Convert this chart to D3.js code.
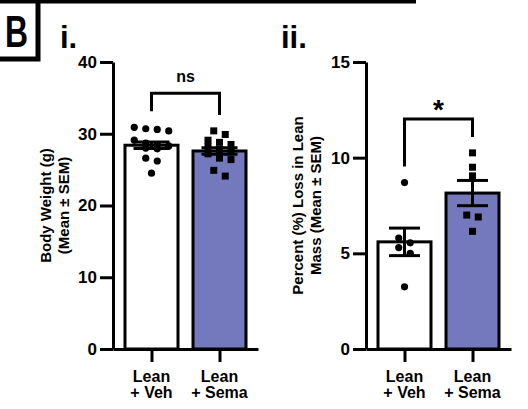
<!DOCTYPE html>
<html>
<head>
<meta charset="utf-8">
<script src="https://cdn.jsdelivr.net/npm/d3@7"></script>
<style>
  html, body { margin: 0; padding: 0; background: #fff; }
  svg { display: block; }
  text { font-family: "Liberation Sans", Arial, sans-serif; font-weight: bold; fill: #000; }
</style>
</head>
<body>
<svg id="chart" width="528" height="409"></svg>
<script>
// ---------------- data ----------------
const catLine1 = ["Lean", "Lean"];
const catLine2 = ["+ Veh", "+ Sema"];
const groups = ["veh", "sema"];

// Panel i: body weight (g)
const bodyWeightVeh  = [30.9, 30.7, 30.6, 30.4, 29.1, 28.7, 28.5, 28.3, 28.0, 27.9, 26.6, 26.2, 24.5];
const bodyWeightSema = [30.4, 29.9, 29.1, 28.8, 28.5, 28.2, 27.8, 27.5, 27.2, 26.6, 26.4, 24.9, 24.1];
const bodyWeightMean = [28.4, 27.6];
const bodyWeightSEM  = [0.45, 0.45];
const bodyWeightTicks = [0, 10, 20, 30, 40];
const bodyWeightSig = "ns";

// Panel ii: percent loss in lean mass
const leanLossVeh  = [8.7, 5.8, 5.55, 5.3, 5.0, 3.25];
const leanLossSema = [10.25, 9.5, 9.05, 7.0, 6.9, 6.15];
const leanLossMean = [5.6, 8.15];
const leanLossSEM  = [0.72, 0.66];
const leanLossTicks = [0, 5, 10, 15];
const leanLossSig = "*";

const panelLabels = ["i.", "ii."];
const yLabels = [["Body Weight (g)", "(Mean ± SEM)"], ["Percent (%) Loss in Lean", "Mass (Mean ± SEM)"]];

// ---------------- drawing ----------------
const svg = d3.select("#chart");
const purple = "#7478BC";
const LW = 3;

// panel letter box and top rule
svg.append("line").attr("x1", 0).attr("x2", 416).attr("y1", 1.5).attr("y2", 1.5)
  .attr("stroke", "#000").attr("stroke-width", 4);
svg.append("rect").attr("x", -6).attr("y", -6).attr("width", 44).attr("height", 65)
  .attr("fill", "none").attr("stroke", "#000").attr("stroke-width", 5);
svg.append("text").attr("x", 5).attr("y", 47).attr("font-size", 44)
  .attr("textLength", 23).attr("lengthAdjust", "spacingAndGlyphs").text("B");

function panel(cfg) {
  const g = svg.append("g");
  const y = d3.scaleLinear().domain(cfg.domain).range([349, 62]);
  const x = d3.scalePoint().domain(groups).range([cfg.x0, cfg.x0 + 145]).padding(0.566);

  // panel label
  g.append("text").attr("x", cfg.labelX).attr("y", 48).attr("font-size", 31).text(cfg.label);

  // y axis title
  const cy = (y.range()[0] + y.range()[1]) / 2;
  cfg.yTitle.forEach((t, i) => {
    g.append("text")
      .attr("transform", `translate(${cfg.titleX[i]},${cy}) rotate(-90)`)
      .attr("text-anchor", "middle").attr("dominant-baseline", "central")
      .attr("font-size", 15).text(t);
  });

  const bw = 53;
  // bars
  g.selectAll("rect.bar").data(cfg.mean).join("rect")
    .attr("class", "bar")
    .attr("x", (d, i) => x(groups[i]) - bw / 2)
    .attr("y", d => y(d))
    .attr("width", bw)
    .attr("height", d => y(0) - y(d))
    .attr("fill", (d, i) => i === 0 ? "#fff" : purple)
    .attr("stroke", "#000").attr("stroke-width", LW);

  // points, arranged in rows (beeswarm style)
  [cfg.veh, cfg.sema].forEach((vals, gi) => {
    const sorted = vals.slice().sort((a, b) => b - a);
    const rows = [];
    sorted.forEach(v => {
      const last = rows[rows.length - 1];
      if (last && Math.abs(y(v) - y(last[0])) <= 6) last.push(v); else rows.push([v]);
    });
    const pts = [];
    rows.forEach(r => r.forEach((v, k) => pts.push({ v, off: (k - (r.length - 1) / 2) * 11.5 })));
    const cx0 = x(groups[gi]);
    if (gi === 0) {
      g.selectAll(null).data(pts).join("circle")
        .attr("cx", d => cx0 + d.off).attr("cy", d => y(d.v)).attr("r", 3.6).attr("fill", "#000");
    } else {
      const s = 7;
      g.selectAll(null).data(pts).join("rect")
        .attr("x", d => cx0 + d.off - s / 2).attr("y", d => y(d.v) - s / 2)
        .attr("width", s).attr("height", s).attr("fill", "#000");
    }
  });

  // error bars
  const capW = cfg.capW;
  cfg.mean.forEach((m, i) => {
    const cx = x(groups[i]);
    const lo = y(m - cfg.sem[i]), hi = y(m + cfg.sem[i]);
    g.append("line").attr("x1", cx).attr("x2", cx).attr("y1", lo).attr("y2", hi)
      .attr("stroke", "#000").attr("stroke-width", LW);
    [lo, hi].forEach(yy => g.append("line")
      .attr("x1", cx - capW / 2).attr("x2", cx + capW / 2).attr("y1", yy).attr("y2", yy)
      .attr("stroke", "#000").attr("stroke-width", LW));
  });

  // y axis
  const ya = g.append("g").attr("transform", `translate(${cfg.x0},0)`)
    .call(d3.axisLeft(y).tickValues(cfg.ticks).tickSize(13).tickSizeOuter(0).tickPadding(3));
  ya.selectAll("path,line").attr("stroke", "#000").attr("stroke-width", LW);
  ya.selectAll("text").attr("font-size", 17).style("font-family", "Liberation Sans, Arial, sans-serif").style("font-weight", "bold");

  // x axis
  const xa = g.append("g").attr("transform", `translate(0,${y(0)})`)
    .call(d3.axisBottom(x).tickSize(13).tickSizeOuter(0).tickFormat(""));
  xa.selectAll("path,line").attr("stroke", "#000").attr("stroke-width", LW);
  groups.forEach((k, i) => {
    const t = g.append("text").attr("text-anchor", "middle").attr("font-size", 16);
    t.append("tspan").attr("x", x(k)).attr("y", 382).text(catLine1[i]);
    t.append("tspan").attr("x", x(k)).attr("y", 398).text(catLine2[i]);
  });

  // significance bracket
  const legL = y(d3.max(cfg.veh)) - 16;
  const legR = y(d3.max(cfg.sema)) - 16;
  const top = Math.min(legL, legR) - 18;
  const xl = x(groups[0]), xr = x(groups[1]);
  g.append("path")
    .attr("d", `M${xl},${legL}V${top}H${xr}V${legR}`)
    .attr("fill", "none").attr("stroke", "#000").attr("stroke-width", LW);
  g.append("text").attr("x", (xl + xr) / 2).attr("y", top + cfg.sigDy)
    .attr("text-anchor", "middle").attr("font-size", cfg.sigSize).text(cfg.sig);
}

panel({
  x0: 113, domain: [0, 40], ticks: bodyWeightTicks, label: panelLabels[0], labelX: 60,
  yTitle: yLabels[0], titleX: [45, 63],
  veh: bodyWeightVeh, sema: bodyWeightSema, mean: bodyWeightMean, sem: bodyWeightSEM,
  capW: 36, sig: bodyWeightSig, sigDy: -11, sigSize: 16
});
panel({
  x0: 366, domain: [0, 15], ticks: leanLossTicks, label: panelLabels[1], labelX: 281,
  yTitle: yLabels[1], titleX: [297, 315],
  veh: leanLossVeh, sema: leanLossSema, mean: leanLossMean, sem: leanLossSEM,
  capW: 31, sig: leanLossSig, sigDy: 0, sigSize: 28
});
</script>
</body>
</html>
